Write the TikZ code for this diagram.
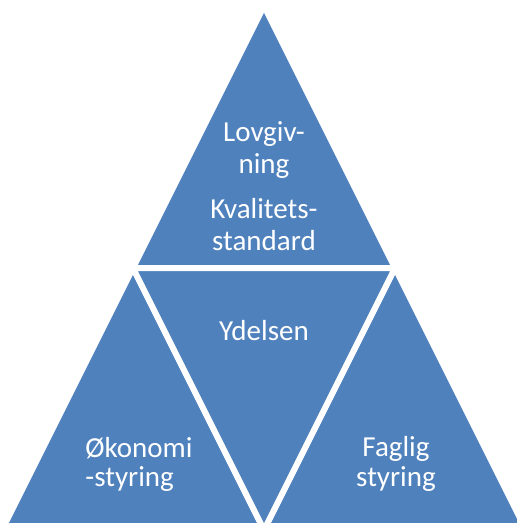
\documentclass[tikz,border=0pt]{standalone}
\usepackage{fontspec}
\setmainfont{Carlito}
\definecolor{partblue}{RGB}{79,129,189}

\begin{document}
\begin{tikzpicture}[x=1pt, y=-1pt,
    part/.style={fill=partblue, draw=white, line width=6pt, line join=miter},
    lbl/.style={text=white, font=\fontsize{29}{32}\selectfont, align=center, inner sep=0pt}]
    \useasboundingbox (0,0) rectangle (517,523);
    \clip (0,0) rectangle (517,523);

    % Corners of the big triangle and its midpoints
    \coordinate (apex) at (264,6);
    \coordinate (bl) at (2,530);
    \coordinate (br) at (526,530);
    \coordinate (ml) at (133,268);
    \coordinate (mr) at (395,268);
    \coordinate (mb) at (264,530);

    % Four parts
    \filldraw[part] (apex) -- (ml) -- (mr) -- cycle;
    \filldraw[part] (ml) -- (bl) -- (mb) -- cycle;
    \filldraw[part] (mr) -- (mb) -- (br) -- cycle;
    \filldraw[part] (ml) -- (mr) -- (mb) -- cycle;

    % Texts
    \node[lbl] (top) at (264,186) {Lovgiv-\\ning\\[13pt]Kvalitets-\\standard};
    \node[lbl] (mid) at (264,331) {Ydelsen};
    \node[lbl, align=left, font=\fontsize{29}{29}\selectfont] (left) at (139,464) {Økonomi\\-styring};
    \node[lbl, font=\fontsize{29}{30}\selectfont] (right) at (396,464) {Faglig\\styring};
\end{tikzpicture}
\end{document}
